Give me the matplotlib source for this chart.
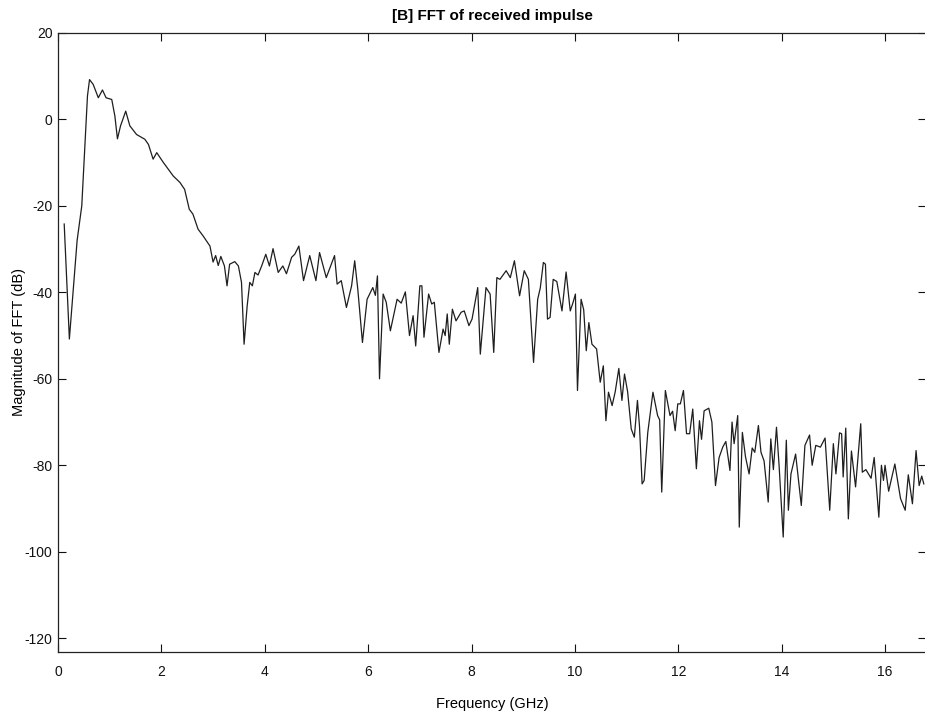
import matplotlib
matplotlib.use("Agg")
import matplotlib.pyplot as plt

# Spectrum magnitude of the received impulse
freq_ghz = [
    0.12, 0.22, 0.37, 0.46, 0.57, 0.61, 0.68, 0.78, 0.86, 0.93, 1.04, 1.10,
    1.15, 1.21, 1.31, 1.39, 1.52, 1.68, 1.75, 1.84, 1.91, 2.04, 2.23, 2.36,
    2.45, 2.54, 2.61, 2.71, 2.81, 2.94, 3.00, 3.05, 3.10, 3.15, 3.22, 3.27,
    3.32, 3.42, 3.49, 3.55, 3.60, 3.66, 3.71, 3.76, 3.81, 3.87, 3.94, 4.02,
    4.09, 4.16, 4.26, 4.35, 4.42, 4.52, 4.58, 4.66, 4.75, 4.87, 4.99, 5.06,
    5.19, 5.35, 5.40, 5.48, 5.58, 5.68, 5.74, 5.80, 5.89, 5.98, 6.09, 6.14,
    6.18, 6.22, 6.29, 6.35, 6.43, 6.56, 6.64, 6.72, 6.80, 6.87, 6.92, 7.00,
    7.04, 7.08, 7.17, 7.23, 7.28, 7.37, 7.45, 7.49, 7.53, 7.57, 7.63, 7.70,
    7.80, 7.86, 7.95, 8.01, 8.12, 8.17, 8.28, 8.36, 8.43, 8.49, 8.55, 8.67,
    8.75, 8.83, 8.93, 9.02, 9.10, 9.20, 9.28, 9.33, 9.39, 9.43, 9.47, 9.52,
    9.58, 9.65, 9.75, 9.83, 9.91, 9.96, 10.01, 10.05, 10.12, 10.17, 10.22,
    10.27, 10.33, 10.42, 10.49, 10.55, 10.60, 10.65, 10.72, 10.78, 10.85,
    10.91, 10.96, 11.02, 11.09, 11.15, 11.21, 11.25, 11.30, 11.34, 11.41,
    11.51, 11.60, 11.64, 11.68, 11.75, 11.84, 11.89, 11.94, 11.99, 12.04,
    12.10, 12.16, 12.22, 12.28, 12.35, 12.41, 12.45, 12.50, 12.59, 12.65,
    12.72, 12.79, 12.86, 12.92, 13.00, 13.04, 13.08, 13.15, 13.18, 13.24,
    13.30, 13.37, 13.43, 13.48, 13.55, 13.60, 13.66, 13.74, 13.79, 13.84,
    13.90, 13.95, 14.03, 14.09, 14.13, 14.18, 14.27, 14.38, 14.45, 14.54,
    14.59, 14.66, 14.75, 14.84, 14.93, 15.00, 15.05, 15.12, 15.16, 15.19,
    15.24, 15.29, 15.35, 15.43, 15.53, 15.56, 15.63, 15.68, 15.73, 15.79,
    15.88, 15.93, 15.97, 16.00, 16.07, 16.19, 16.30, 16.39, 16.45, 16.53,
    16.60, 16.66, 16.71, 16.75,
]
magnitude_db = [
    -24.2, -50.8, -28.0, -20.0, 5.4, 9.2, 8.1, 5.0, 6.8, 5.0, 4.6, 0.8,
    -4.5, -1.5, 1.9, -1.5, -3.5, -4.6, -5.8, -9.2, -7.7, -10.0, -13.1, -14.6,
    -16.2, -20.8, -21.9, -25.4, -27.0, -29.3, -33.0, -31.5, -33.8, -31.7, -33.9, -38.5,
    -33.5, -32.9, -33.9, -37.7, -52.0, -43.1, -37.7, -38.5, -35.4, -36.0, -33.9, -31.2,
    -33.9, -29.9, -35.4, -33.9, -35.7, -31.9, -31.2, -29.3, -37.3, -31.5, -37.3, -30.8,
    -36.6, -31.5, -38.1, -37.3, -43.5, -38.5, -32.7, -39.3, -51.6, -41.6, -38.9, -40.7,
    -36.2, -60.0, -40.4, -42.3, -48.9, -41.6, -42.5, -39.9, -50.0, -45.4, -52.4, -38.5,
    -38.5, -50.4, -40.4, -42.7, -42.3, -53.9, -48.5, -50.0, -45.0, -52.0, -43.9, -46.6,
    -44.6, -44.3, -47.7, -46.2, -38.9, -54.3, -38.9, -40.4, -53.9, -36.6, -37.0, -35.0,
    -36.6, -32.7, -40.8, -35.0, -37.0, -56.2, -41.6, -39.0, -33.1, -33.5, -46.2, -45.8,
    -37.0, -37.5, -44.3, -35.3, -44.3, -42.5, -40.4, -62.7, -41.6, -44.0, -53.5,
    -47.0, -52.0, -53.1, -60.8, -57.0, -69.7, -63.1, -66.2, -63.0, -57.6,
    -65.0, -58.9, -63.0, -71.6, -73.5, -65.0, -71.0, -84.3, -83.5, -72.4,
    -63.1, -68.5, -69.5, -86.2, -62.7, -68.5, -67.5, -72.0, -65.8, -65.8,
    -62.7, -72.7, -72.7, -67.0, -80.8, -69.7, -74.0, -67.4, -66.8, -70.0,
    -84.7, -78.2, -75.8, -74.5, -81.2, -70.0, -75.0, -68.5, -94.3, -72.4,
    -78.0, -82.0, -76.0, -77.0, -70.8, -77.0, -79.0, -88.5, -73.9, -81.0,
    -71.2, -80.0, -96.6, -74.2, -90.4, -82.0, -77.4, -89.3, -75.4, -73.0,
    -80.0, -75.4, -75.8, -73.7, -90.4, -75.0, -82.0, -72.5, -72.7, -82.7,
    -71.4, -92.4, -76.7, -85.0, -70.4, -81.6, -81.0, -82.0, -83.0, -78.2,
    -92.0, -80.0, -83.5, -80.0, -86.0, -79.7, -87.7, -90.4, -82.2, -88.9,
    -76.6, -84.7, -82.5, -84.3,
]

x_ticks = [0, 2, 4, 6, 8, 10, 12, 14, 16]
y_ticks = [-120, -100, -80, -60, -40, -20, 0, 20]

plt.rcParams["font.family"] = ["Liberation Sans", "DejaVu Sans"]
plt.rcParams["axes.unicode_minus"] = False

fig = plt.figure(figsize=(9.25, 7.15), dpi=100)
ax = fig.add_axes([0.0627, 0.088, 0.9388, 0.866])

ax.plot(freq_ghz, magnitude_db, color="#1e1e1e", linewidth=0.9)

ax.set_xlim(0, 16.8)
ax.set_ylim(-123.2, 20)
ax.set_xticks(x_ticks)
ax.set_yticks(y_ticks)
ax.tick_params(direction="in", length=6, width=0.8, labelsize=10,
               top=True, right=True, colors="#111111")
ax.tick_params(axis="x", pad=9)
ax.tick_params(axis="y", pad=4)
for side in ax.spines.values():
    side.set_linewidth(0.9)
    side.set_color("#222222")

ax.set_title("[B] FFT of received impulse", fontsize=11, fontweight="bold", pad=9)
ax.set_xlabel("Frequency (GHz)", fontsize=10.5, labelpad=13)
ax.set_ylabel("Magnitude of FFT (dB)", fontsize=10.5, labelpad=-1)

fig.savefig("out.png", dpi=100)
